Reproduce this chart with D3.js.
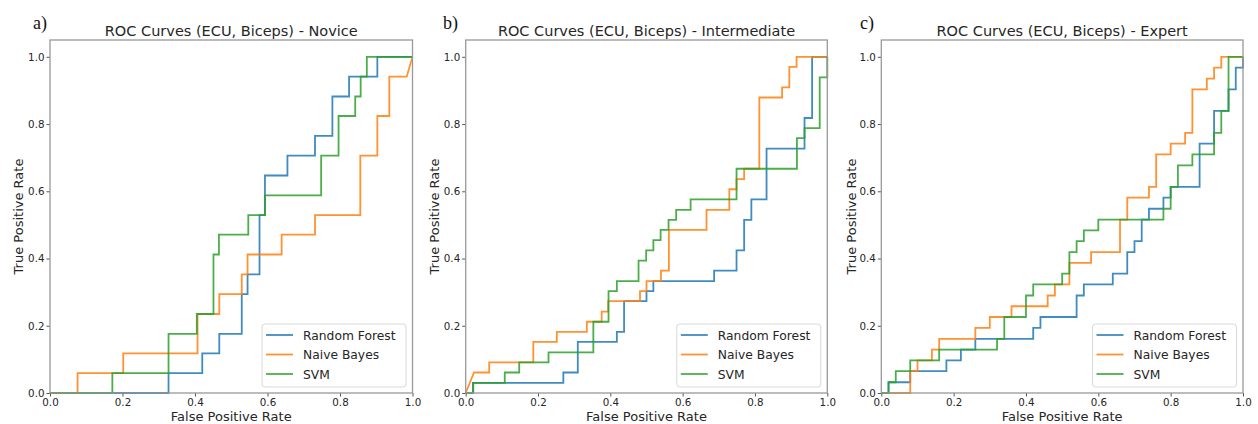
<!DOCTYPE html>
<html><head><meta charset="utf-8">
<script src="https://cdn.jsdelivr.net/npm/d3@7"></script>
<style>body{margin:0;background:#fff}svg{display:block}</style>
</head><body>
<svg id="c" width="1258" height="424"></svg>
<script>
const seriesNames = ["Random Forest", "Naive Bayes", "SVM"];
const panelLabels = ["a)", "b)", "c)"];
const panelTitles = ["ROC Curves (ECU, Biceps) - Novice", "ROC Curves (ECU, Biceps) - Intermediate", "ROC Curves (ECU, Biceps) - Expert"];
const tickValues = [0, 0.2, 0.4, 0.6, 0.8, 1.0];

const noviceRF = [[0,0],[0.327,0],[0.327,0.059],[0.42,0.059],[0.42,0.118],[0.467,0.118],[0.467,0.176],[0.529,0.176],[0.529,0.294],[0.545,0.294],[0.545,0.353],[0.578,0.353],[0.578,0.529],[0.593,0.529],[0.593,0.647],[0.655,0.647],[0.655,0.706],[0.731,0.706],[0.731,0.765],[0.779,0.765],[0.779,0.882],[0.825,0.882],[0.825,0.941],[0.903,0.941],[0.903,1],[1,1]];
const noviceNB = [[0,0],[0.076,0],[0.076,0.059],[0.202,0.059],[0.202,0.118],[0.407,0.118],[0.407,0.235],[0.467,0.235],[0.467,0.294],[0.529,0.294],[0.529,0.353],[0.545,0.353],[0.545,0.412],[0.639,0.412],[0.639,0.471],[0.731,0.471],[0.731,0.529],[0.856,0.529],[0.856,0.706],[0.903,0.706],[0.903,0.824],[0.936,0.824],[0.936,0.941],[0.984,0.941],[1,1]];
const noviceSVM = [[0,0],[0.172,0],[0.172,0.059],[0.327,0.059],[0.327,0.176],[0.405,0.176],[0.405,0.235],[0.451,0.235],[0.451,0.412],[0.466,0.412],[0.466,0.471],[0.547,0.471],[0.547,0.529],[0.593,0.529],[0.593,0.588],[0.748,0.588],[0.748,0.706],[0.796,0.706],[0.796,0.824],[0.842,0.824],[0.842,0.882],[0.857,0.882],[0.857,0.941],[0.874,0.941],[0.874,1],[1,1]];

const interRF = [[0,0],[0.02,0],[0.02,0.03],[0.27,0.03],[0.27,0.061],[0.31,0.061],[0.31,0.152],[0.418,0.152],[0.418,0.182],[0.438,0.182],[0.438,0.273],[0.5,0.273],[0.5,0.303],[0.519,0.303],[0.519,0.333],[0.687,0.333],[0.687,0.364],[0.749,0.364],[0.749,0.424],[0.77,0.424],[0.77,0.515],[0.79,0.515],[0.79,0.576],[0.832,0.576],[0.832,0.727],[0.937,0.727],[0.937,0.818],[0.958,0.818],[0.958,1],[1,1]];
const interNB = [[0,0],[0.023,0.061],[0.065,0.061],[0.065,0.091],[0.187,0.091],[0.187,0.152],[0.252,0.152],[0.252,0.182],[0.335,0.182],[0.335,0.212],[0.376,0.212],[0.376,0.242],[0.394,0.242],[0.394,0.273],[0.482,0.273],[0.482,0.303],[0.5,0.303],[0.5,0.333],[0.54,0.333],[0.54,0.364],[0.562,0.364],[0.562,0.485],[0.666,0.485],[0.666,0.545],[0.729,0.545],[0.729,0.606],[0.749,0.606],[0.749,0.636],[0.77,0.636],[0.77,0.667],[0.812,0.667],[0.812,0.879],[0.875,0.879],[0.875,0.909],[0.895,0.909],[0.895,0.97],[0.915,0.97],[0.915,1],[1,1]];
const interSVM = [[0,0],[0.021,0],[0.021,0.03],[0.108,0.03],[0.108,0.061],[0.148,0.061],[0.148,0.091],[0.229,0.091],[0.229,0.121],[0.353,0.121],[0.353,0.212],[0.395,0.212],[0.395,0.303],[0.418,0.303],[0.418,0.333],[0.478,0.333],[0.478,0.394],[0.499,0.394],[0.499,0.424],[0.519,0.424],[0.519,0.455],[0.539,0.455],[0.539,0.485],[0.561,0.485],[0.561,0.515],[0.582,0.515],[0.582,0.545],[0.622,0.545],[0.622,0.576],[0.749,0.576],[0.749,0.667],[0.916,0.667],[0.916,0.758],[0.937,0.758],[0.937,0.788],[0.979,0.788],[0.979,0.939],[1,0.939],[1,1]];

const expertRF = [[0,0],[0.02,0],[0.02,0.032],[0.08,0.032],[0.08,0.065],[0.18,0.065],[0.18,0.097],[0.22,0.097],[0.22,0.129],[0.26,0.129],[0.26,0.161],[0.42,0.161],[0.42,0.194],[0.44,0.194],[0.44,0.226],[0.54,0.226],[0.54,0.29],[0.56,0.29],[0.56,0.323],[0.64,0.323],[0.64,0.355],[0.68,0.355],[0.68,0.419],[0.70,0.419],[0.70,0.452],[0.72,0.452],[0.72,0.516],[0.74,0.516],[0.74,0.548],[0.78,0.548],[0.78,0.581],[0.80,0.581],[0.80,0.613],[0.88,0.613],[0.88,0.742],[0.92,0.742],[0.92,0.839],[0.96,0.839],[0.96,0.903],[0.98,0.903],[0.98,0.968],[1,0.968],[1,1]];
const expertNB = [[0,0],[0.08,0],[0.08,0.065],[0.10,0.065],[0.10,0.097],[0.14,0.097],[0.14,0.129],[0.16,0.129],[0.16,0.161],[0.26,0.161],[0.26,0.194],[0.30,0.194],[0.30,0.226],[0.36,0.226],[0.36,0.258],[0.46,0.258],[0.46,0.29],[0.48,0.29],[0.48,0.323],[0.52,0.323],[0.52,0.387],[0.58,0.387],[0.58,0.419],[0.66,0.419],[0.66,0.516],[0.68,0.516],[0.68,0.581],[0.74,0.581],[0.74,0.613],[0.76,0.613],[0.76,0.71],[0.80,0.71],[0.80,0.742],[0.84,0.742],[0.84,0.774],[0.86,0.774],[0.86,0.903],[0.90,0.903],[0.90,0.935],[0.92,0.935],[0.92,0.968],[0.94,0.968],[0.94,1],[1,1]];
const expertSVM = [[0,0],[0.02,0],[0.02,0.032],[0.04,0.032],[0.04,0.065],[0.08,0.065],[0.08,0.097],[0.16,0.097],[0.16,0.129],[0.32,0.129],[0.32,0.161],[0.34,0.161],[0.34,0.226],[0.40,0.226],[0.40,0.29],[0.42,0.29],[0.42,0.323],[0.50,0.323],[0.50,0.355],[0.52,0.355],[0.52,0.419],[0.54,0.419],[0.54,0.452],[0.56,0.452],[0.56,0.484],[0.60,0.484],[0.60,0.516],[0.78,0.516],[0.78,0.548],[0.80,0.548],[0.80,0.613],[0.82,0.613],[0.82,0.677],[0.86,0.677],[0.86,0.71],[0.92,0.71],[0.92,0.774],[0.94,0.774],[0.94,0.839],[0.96,0.839],[0.96,1],[1,1]];

const panelData = [[noviceRF, noviceNB, noviceSVM],[interRF, interNB, interSVM],[expertRF, expertNB, expertSVM]];
const colors = ["#1f77b4", "#ff7f0e", "#2ca02c"];

const svg = d3.select("#c");
const panels = [
  {x0: 50, x1: 412.5, ylab: 18, lab: 33},
  {x0: 465.7, x1: 827.3, ylab: 434, lab: 443},
  {x0: 881.3, x1: 1243, ylab: 851, lab: 860}
];
const plotTop = 40, plotBottom = 393;
const font = "DejaVu Sans, sans-serif";
const textCol = "#262626";

panels.forEach((p, i) => {
  const x = d3.scaleLinear().domain([0, 1]).range([p.x0, p.x1]);
  const y = d3.scaleLinear().domain([0, 1.05]).range([plotBottom, plotTop]);
  const g = svg.append("g");

  const line = d3.line().x(d => x(d[0])).y(d => y(d[1]));
  panelData[i].forEach((s, k) => {
    g.append("path").datum(s).attr("d", line).attr("fill", "none")
      .attr("stroke", colors[k]).attr("stroke-width", 1.8).attr("stroke-opacity", 0.85)
      .attr("stroke-linejoin", "miter");
  });

  const xa = g.append("g").attr("transform", `translate(0,${plotBottom})`)
    .call(d3.axisBottom(x).tickValues(tickValues).tickFormat(d3.format(".1f")).tickSizeOuter(0).tickSize(3.5).tickPadding(2));
  const ya = g.append("g").attr("transform", `translate(${p.x0},0)`)
    .call(d3.axisLeft(y).tickValues(tickValues).tickFormat(d3.format(".1f")).tickSizeOuter(0).tickSize(3.5).tickPadding(2));
  [xa, ya].forEach(a => {
    a.select(".domain").remove();
    a.selectAll("line").attr("stroke", "#555");
    a.selectAll("text").attr("font-family", font).attr("font-size", 10.3).attr("fill", textCol);
  });

  g.append("rect").attr("x", p.x0).attr("y", plotTop).attr("width", p.x1 - p.x0).attr("height", plotBottom - plotTop)
    .attr("fill", "none").attr("stroke", "#999").attr("stroke-width", 1.3);

  g.append("text").attr("x", (p.x0 + p.x1) / 2).attr("y", 36).attr("text-anchor", "middle")
    .attr("font-family", font).attr("font-size", 14.5).attr("fill", textCol).text(panelTitles[i]);
  g.append("text").attr("x", (p.x0 + p.x1) / 2).attr("y", 421).attr("text-anchor", "middle")
    .attr("font-family", font).attr("font-size", 13).attr("fill", textCol).text("False Positive Rate");
  g.append("text").attr("transform", `translate(${p.ylab + 5},${(plotTop + plotBottom) / 2}) rotate(-90)`)
    .attr("text-anchor", "middle").attr("font-family", font).attr("font-size", 13).attr("fill", textCol).text("True Positive Rate");
  g.append("text").attr("x", p.lab).attr("y", 29).attr("font-family", "Liberation Serif, serif")
    .attr("font-size", 18).attr("fill", "#111").text(panelLabels[i]);

  const lx = p.x1 - 6.5 - 144, ly = 324;
  const lg = g.append("g");
  lg.append("rect").attr("x", lx).attr("y", ly).attr("width", 144).attr("height", 63).attr("rx", 3)
    .attr("fill", "#fff").attr("fill-opacity", 0.85).attr("stroke", "#d8d8d8").attr("stroke-width", 1);
  seriesNames.forEach((n, k) => {
    const yy = ly + 11 + k * 19.5;
    lg.append("line").attr("x1", lx + 4).attr("x2", lx + 31).attr("y1", yy).attr("y2", yy)
      .attr("stroke", colors[k]).attr("stroke-width", 1.8).attr("stroke-opacity", 0.85);
    lg.append("text").attr("x", lx + 41).attr("y", yy + 4.5).attr("font-family", font)
      .attr("font-size", 12.3).attr("fill", textCol).text(n);
  });
});
</script>
</body></html>
